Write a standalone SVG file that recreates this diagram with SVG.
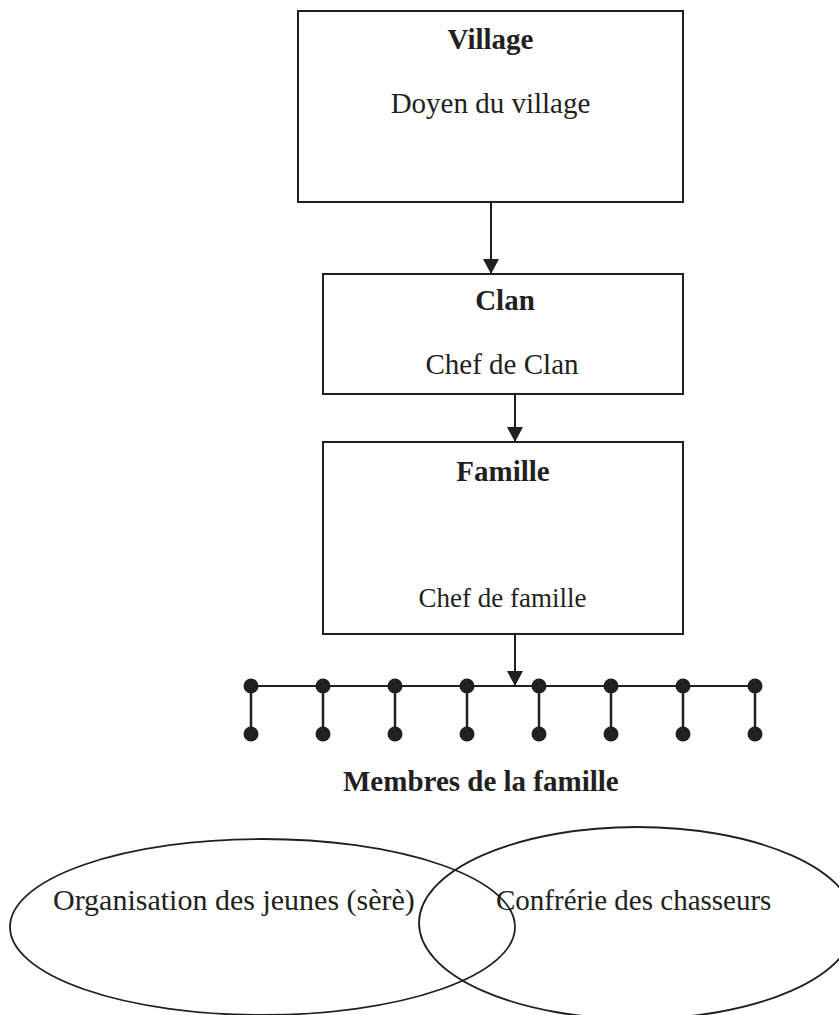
<svg xmlns="http://www.w3.org/2000/svg" width="839" height="1015" viewBox="0 0 839 1015">
<defs>
<marker id="ah" viewBox="0 0 15 16" refX="15" refY="8" markerWidth="15" markerHeight="16" markerUnits="userSpaceOnUse" orient="auto">
<path d="M0,0 L15,8 L0,16 Z" fill="#231f20"/>
</marker>
<style>
.box{fill:#fff;stroke:#231f20;stroke-width:2}
.t{font-family:"Liberation Serif","Times New Roman",serif;fill:#231f20;text-anchor:middle}
.s{text-anchor:start}
.b{font-weight:bold}
.ln{stroke:#231f20;stroke-width:2;fill:none}
.stem{stroke:#231f20;stroke-width:2.5}
.dot{fill:#231f20}
.el{fill:none;stroke:#231f20;stroke-width:1.8}
</style>
</defs>
<rect width="839" height="1015" fill="#fff"/>
<g id="connectors">
<line class="ln" x1="491" y1="202" x2="491" y2="274" marker-end="url(#ah)"/>
<line class="ln" x1="515" y1="394" x2="515" y2="442" marker-end="url(#ah)"/>
<line class="ln" x1="515" y1="634" x2="515" y2="686" marker-end="url(#ah)"/>
</g>
<g id="village">
<rect class="box" x="298" y="11" width="385" height="191"/>
<text class="t b" x="490.5" y="49" font-size="29">Village</text>
<text class="t" x="490.5" y="113" font-size="29">Doyen du village</text>
</g>
<g id="clan">
<rect class="box" x="323" y="274" width="360" height="120"/>
<text class="t b" x="505" y="310" font-size="29">Clan</text>
<text class="t" x="502" y="374" font-size="29">Chef de Clan</text>
</g>
<g id="famille">
<rect class="box" x="323" y="442" width="360" height="192"/>
<text class="t b" x="503" y="481" font-size="29">Famille</text>
<text class="t" x="502.5" y="607" font-size="27">Chef de famille</text>
</g>
<g id="membres">
<line class="ln" x1="251" y1="686" x2="755" y2="686"/>
<g class="stem">
<line x1="251" y1="686" x2="251" y2="734"/>
<line x1="323" y1="686" x2="323" y2="734"/>
<line x1="395" y1="686" x2="395" y2="734"/>
<line x1="467" y1="686" x2="467" y2="734"/>
<line x1="539" y1="686" x2="539" y2="734"/>
<line x1="611" y1="686" x2="611" y2="734"/>
<line x1="683" y1="686" x2="683" y2="734"/>
<line x1="755" y1="686" x2="755" y2="734"/>
</g>
<g class="dot">
<circle cx="251" cy="686" r="7.5"/><circle cx="323" cy="686" r="7.5"/><circle cx="395" cy="686" r="7.5"/><circle cx="467" cy="686" r="7.5"/><circle cx="539" cy="686" r="7.5"/><circle cx="611" cy="686" r="7.5"/><circle cx="683" cy="686" r="7.5"/><circle cx="755" cy="686" r="7.5"/>
<circle cx="251" cy="734" r="7.5"/><circle cx="323" cy="734" r="7.5"/><circle cx="395" cy="734" r="7.5"/><circle cx="467" cy="734" r="7.5"/><circle cx="539" cy="734" r="7.5"/><circle cx="611" cy="734" r="7.5"/><circle cx="683" cy="734" r="7.5"/><circle cx="755" cy="734" r="7.5"/>
</g>
<text class="t b s" x="343" y="791" font-size="29">Membres de la famille</text>
</g>
<g id="organisation">
<ellipse class="el" cx="262.5" cy="927" rx="252.5" ry="88"/>
<text class="t s" x="53" y="910" font-size="30">Organisation des jeunes (sèrè)</text>
</g>
<g id="confrerie">
<ellipse class="el" cx="637" cy="923" rx="218" ry="96"/>
<text class="t s" x="496" y="910" font-size="29">Confrérie des chasseurs</text>
</g>
</svg>
